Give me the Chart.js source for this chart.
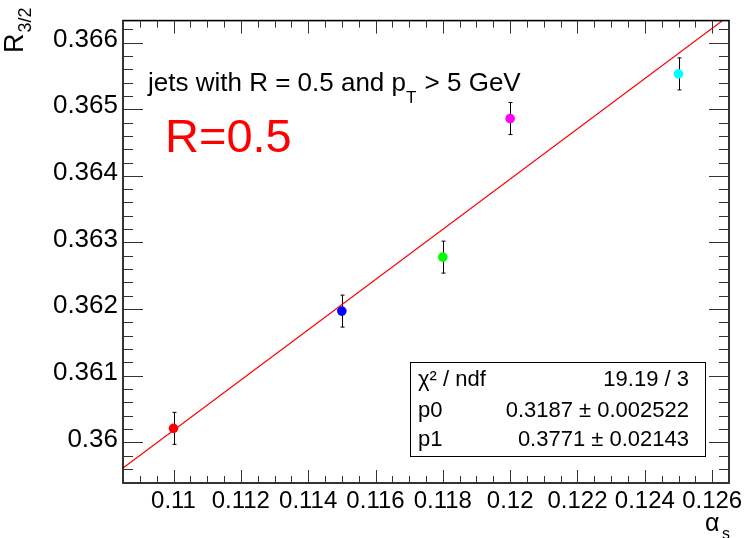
<!DOCTYPE html>
<html>
<head>
<meta charset="utf-8">
<script src="https://cdn.jsdelivr.net/npm/chart.js@4"></script>
<style>
  body { margin: 0; background: #fff; }
  #wrap { width: 745px; height: 538px; }
</style>
</head>
<body>
<div id="wrap"><canvas id="ratioChart" width="745" height="538"></canvas></div>
<script>
// measured points: R_3/2 vs alpha_s
const alphaS = [0.11, 0.115, 0.118, 0.12, 0.125];
const r32 = [0.36021, 0.36197, 0.36278, 0.36486, 0.36553];
const r32Err = [0.00024, 0.00024, 0.00024, 0.00024, 0.00024];
const pointColors = ['#ff0000', '#0000ff', '#00ff00', '#ff00ff', '#00ffff'];

// linear fit p0 + p1*x
const fitParams = [0.3187, 0.3771];
const fitX = [0.1085, 0.1265];

const xRange = [0.1085, 0.1265];
const yRange = [0.35939, 0.36633];

const statRows = [
  ['χ² / ndf', '19.19 / 3'],
  ['p0', '0.3187 ± 0.002522'],
  ['p1', '0.3771 ± 0.02143']
];

const FONT = "'Liberation Sans', Arial, Helvetica, sans-serif";

function isMajor(v, step) {
  const r = v / step;
  return Math.abs(r - Math.round(r)) < 1e-6;
}
function fmt(v) {
  return parseFloat(v.toFixed(3)).toString();
}

const rootStyle = {
  id: 'rootStyle',
  beforeDatasetsDraw(chart) {
    // error bars under the markers
    const ctx = chart.ctx;
    const y = chart.scales.y;
    const meta = chart.getDatasetMeta(1);
    ctx.save();
    ctx.strokeStyle = '#000';
    ctx.lineWidth = 1;
    meta.data.forEach((pt, i) => {
      const yTop = y.getPixelForValue(r32[i] + r32Err[i]);
      const yBot = y.getPixelForValue(r32[i] - r32Err[i]);
      const x = Math.round(pt.x) + 0.5;
      ctx.beginPath();
      ctx.moveTo(x, yTop); ctx.lineTo(x, yBot);
      ctx.moveTo(x - 2, yTop); ctx.lineTo(x + 2, yTop);
      ctx.moveTo(x - 2, yBot); ctx.lineTo(x + 2, yBot);
      ctx.stroke();
    });
    ctx.restore();
  },
  afterDraw(chart) {
    const ctx = chart.ctx;
    const a = chart.chartArea;
    const xs = chart.scales.x, ys = chart.scales.y;
    ctx.save();

    // frame
    ctx.strokeStyle = '#000';
    ctx.lineWidth = 1.6;
    ctx.strokeRect(a.left, a.top, a.right - a.left, a.bottom - a.top);

    // ticks drawn inside, mirrored on top/right
    ctx.lineWidth = 1;
    ctx.strokeStyle = '#333';
    ctx.beginPath();
    xs.ticks.forEach(t => {
      const px = Math.round(xs.getPixelForValue(t.value)) + 0.5;
      const len = isMajor(t.value, 0.002) ? 13 : 7;
      ctx.moveTo(px, a.bottom); ctx.lineTo(px, a.bottom - len);
      ctx.moveTo(px, a.top); ctx.lineTo(px, a.top + len);
    });
    ys.ticks.forEach(t => {
      const py = Math.round(ys.getPixelForValue(t.value)) + 0.5;
      const len = isMajor(t.value, 0.001) ? 20 : 10;
      ctx.moveTo(a.left, py); ctx.lineTo(a.left + len, py);
      ctx.moveTo(a.right, py); ctx.lineTo(a.right - len, py);
    });
    ctx.stroke();

    ctx.fillStyle = '#000';
    ctx.textBaseline = 'alphabetic';

    // y title R_{3/2}
    ctx.save();
    ctx.translate(23, 53);
    ctx.rotate(-Math.PI / 2);
    ctx.font = '27px ' + FONT;
    ctx.fillText('R', 0, 0);
    const rw = ctx.measureText('R').width;
    ctx.font = '18px ' + FONT;
    ctx.fillText('3/2', rw + 1, 8);
    ctx.restore();

    // x title alpha_s
    ctx.font = '25px ' + FONT;
    ctx.fillText('α', 705, 531);
    ctx.font = '16px ' + FONT;
    ctx.fillText('s', 722, 539);

    // annotation
    let x = 148;
    ctx.font = '26px ' + FONT;
    const part1 = 'jets with R = 0.5 and p';
    ctx.fillText(part1, x, 91);
    x += ctx.measureText(part1).width;
    ctx.font = '17px ' + FONT;
    ctx.fillText('T', x, 103);
    x += ctx.measureText('T').width + 1;
    ctx.font = '26px ' + FONT;
    ctx.fillText(' > 5 GeV', x, 91);

    ctx.fillStyle = '#ff0000';
    ctx.font = '47px ' + FONT;
    ctx.fillText('R=0.5', 165, 152);

    // fit statistics box
    ctx.fillStyle = '#fff';
    ctx.fillRect(410, 362, 295, 94);
    ctx.strokeStyle = '#000';
    ctx.lineWidth = 1;
    ctx.strokeRect(410.5, 362.5, 295, 94);
    ctx.fillStyle = '#000';
    ctx.font = '22px ' + FONT;
    const baselines = [386, 417, 446];
    statRows.forEach((row, i) => {
      ctx.textAlign = 'left';
      ctx.fillText(row[0], 418, baselines[i]);
      ctx.textAlign = 'right';
      ctx.fillText(row[1], 689, baselines[i]);
    });
    ctx.restore();
  }
};

const ctx = document.getElementById('ratioChart');

const data = {
  datasets: [
    {
      type: 'line',
      label: 'fit',
      data: fitX.map(v => ({ x: v, y: fitParams[0] + fitParams[1] * v })),
      borderColor: '#ff0000',
      borderWidth: 1.2,
      pointRadius: 0,
      fill: false,
      order: 2
    },
    {
      type: 'scatter',
      label: 'R32',
      data: alphaS.map((v, i) => ({ x: v, y: r32[i] })),
      pointBackgroundColor: pointColors,
      pointBorderWidth: 0,
      pointRadius: 4.8,
      order: 1
    }
  ]
};

const config = {
  type: 'scatter',
  data: data,
  options: {
    responsive: false,
    animation: false,
    layout: { padding: { left: 0, top: 12, right: 16, bottom: 0 } },
    plugins: {
      legend: { display: false },
      tooltip: { enabled: false },
      title: { display: false }
    },
    scales: {
      x: {
        type: 'linear',
        min: xRange[0],
        max: xRange[1],
        grid: { display: false, drawTicks: false },
        border: { display: false },
        afterFit: s => { s.height = 55; },
        ticks: {
          stepSize: 0.0005,
          includeBounds: false,
          autoSkip: false,
          maxRotation: 0,
          padding: 4,
          color: '#000',
          font: { family: FONT, size: 24 },
          callback: v => isMajor(v, 0.002) ? fmt(v) : ''
        }
      },
      y: {
        type: 'linear',
        min: yRange[0],
        max: yRange[1],
        grid: { display: false, drawTicks: false },
        border: { display: false },
        afterFit: s => { s.width = 123; },
        ticks: {
          stepSize: 0.0002,
          includeBounds: false,
          autoSkip: false,
          padding: 5,
          labelOffset: -3,
          color: '#000',
          font: { family: FONT, size: 26 },
          callback: v => isMajor(v, 0.001) ? fmt(v) : ''
        }
      }
    }
  },
  plugins: [rootStyle]
};

new Chart(ctx, config);
</script>
</body>
</html>
